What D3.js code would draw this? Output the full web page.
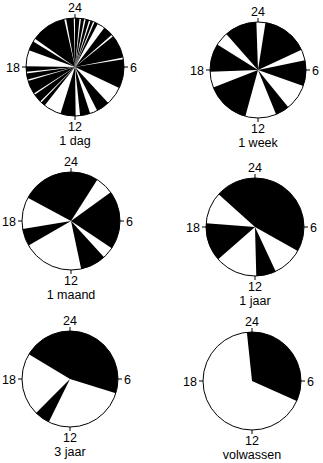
<!DOCTYPE html>
<html>
<head>
<meta charset="utf-8">
<script src="https://cdn.jsdelivr.net/npm/d3@7"></script>
<style>
  body { margin: 0; background: #fff; overflow: hidden; }
  svg { display: block; }
  text { font-family: "Liberation Sans", Arial, Helvetica, sans-serif; font-size: 12.5px; fill: #000; }
</style>
</head>
<body>
<div id="chart"></div>
<script>
// sleep periods (black), hours on a 24h dial; end > 24 wraps past midnight
const captions = ["1 dag", "1 week", "1 maand", "1 jaar", "3 jaar", "volwassen"]
const hourTicks = [24, 6, 12, 18]

const sleepDag = [
    [0, 0.35], [0.47, 0.72], [0.84, 1.12], [1.24, 1.45], [1.57, 1.85],
    [2.45, 3.25], [3.4, 5.25], [5.4, 7.7], [9.15, 10.2], [10.8, 11.6],
    [11.95, 13.15], [14.55, 14.9], [15.02, 15.7], [15.82, 16.9], [17.02, 17.5],
    [17.62, 18.05], [19.33, 20.1], [20.35, 23.15], [23.3, 23.9]
]
const sleepWeek = [[0.6, 4.33], [5.22, 7.29], [9.39, 10.52], [13.02, 16.57], [17.87, 20.13], [21.24, 23.87]]
const sleepMaand = [[19.88, 26.16], [3.61, 8.25], [9.17, 11.2], [16, 17.37]]
const sleepJaar = [[20.8, 31.95], [10.33, 11.9], [15.25, 18.3]]
const sleep3Jaar = [[20.07, 31.15], [13.75, 15.0]]
const sleepVolwassen = [[23.6, 31.6]]

const sleepData = [sleepDag, sleepWeek, sleepMaand, sleepJaar, sleep3Jaar, sleepVolwassen]

const width = 323, height = 463
// dial centres and radii
const layout = [
    {cx: 75, cy: 67, r: 49},
    {cx: 258, cy: 70, r: 48},
    {cx: 71, cy: 221, r: 49},
    {cx: 255, cy: 227, r: 49},
    {cx: 70, cy: 379, r: 48},
    {cx: 252, cy: 381, r: 49}
]

const svg = d3.select('#chart').append('svg')
    .attr('width', width)
    .attr('height', height)
    .attr('viewBox', [0, 0, width, height])

const angle = d3.scaleLinear().domain([0, 24]).range([0, 2 * Math.PI])

captions.forEach((caption, i) => {
    const {cx, cy, r} = layout[i]
    const g = svg.append('g')
        .attr('class', 'dial')
        .attr('transform', `translate(${cx},${cy})`)

    const arc = d3.arc().innerRadius(0).outerRadius(r)

    g.append('circle')
        .attr('r', r)
        .style('fill', '#fff')

    g.selectAll('path.sleep')
        .data(sleepData[i])
        .join('path')
        .attr('class', 'sleep')
        .attr('d', d => arc({startAngle: angle(d[0]), endAngle: angle(d[1])}))
        .style('fill', '#000')

    g.append('circle')
        .attr('r', r)
        .style('fill', 'none')
        .style('stroke', '#000')
        .style('stroke-width', 1)

    // hour ticks
    g.selectAll('line.tick')
        .data(hourTicks)
        .join('line')
        .attr('class', 'tick')
        .attr('x1', h => Math.sin(angle(h % 24)) * r)
        .attr('y1', h => -Math.cos(angle(h % 24)) * r)
        .attr('x2', h => Math.sin(angle(h % 24)) * (r + 4))
        .attr('y2', h => -Math.cos(angle(h % 24)) * (r + 4))
        .style('stroke', '#000')
        .style('stroke-width', 1)

    // hour labels
    g.selectAll('text.hour')
        .data(hourTicks)
        .join('text')
        .attr('class', 'hour')
        .attr('x', h => h === 6 ? r + 6 : h === 18 ? -r - 6 : 0)
        .attr('y', h => h === 24 ? -r - 6 : h === 12 ? r + 15 : 5)
        .attr('text-anchor', h => h === 6 ? 'start' : h === 18 ? 'end' : 'middle')
        .text(h => h)
})

// captions under each dial
svg.append('g')
    .selectAll('text.caption')
    .data(captions)
    .join('text')
    .attr('class', 'caption')
    .attr('x', (d, i) => layout[i].cx)
    .attr('y', (d, i) => Math.min(layout[i].cy + layout[i].r + 29, height - 3))
    .attr('text-anchor', 'middle')
    .text(d => d)
</script>
</body>
</html>
